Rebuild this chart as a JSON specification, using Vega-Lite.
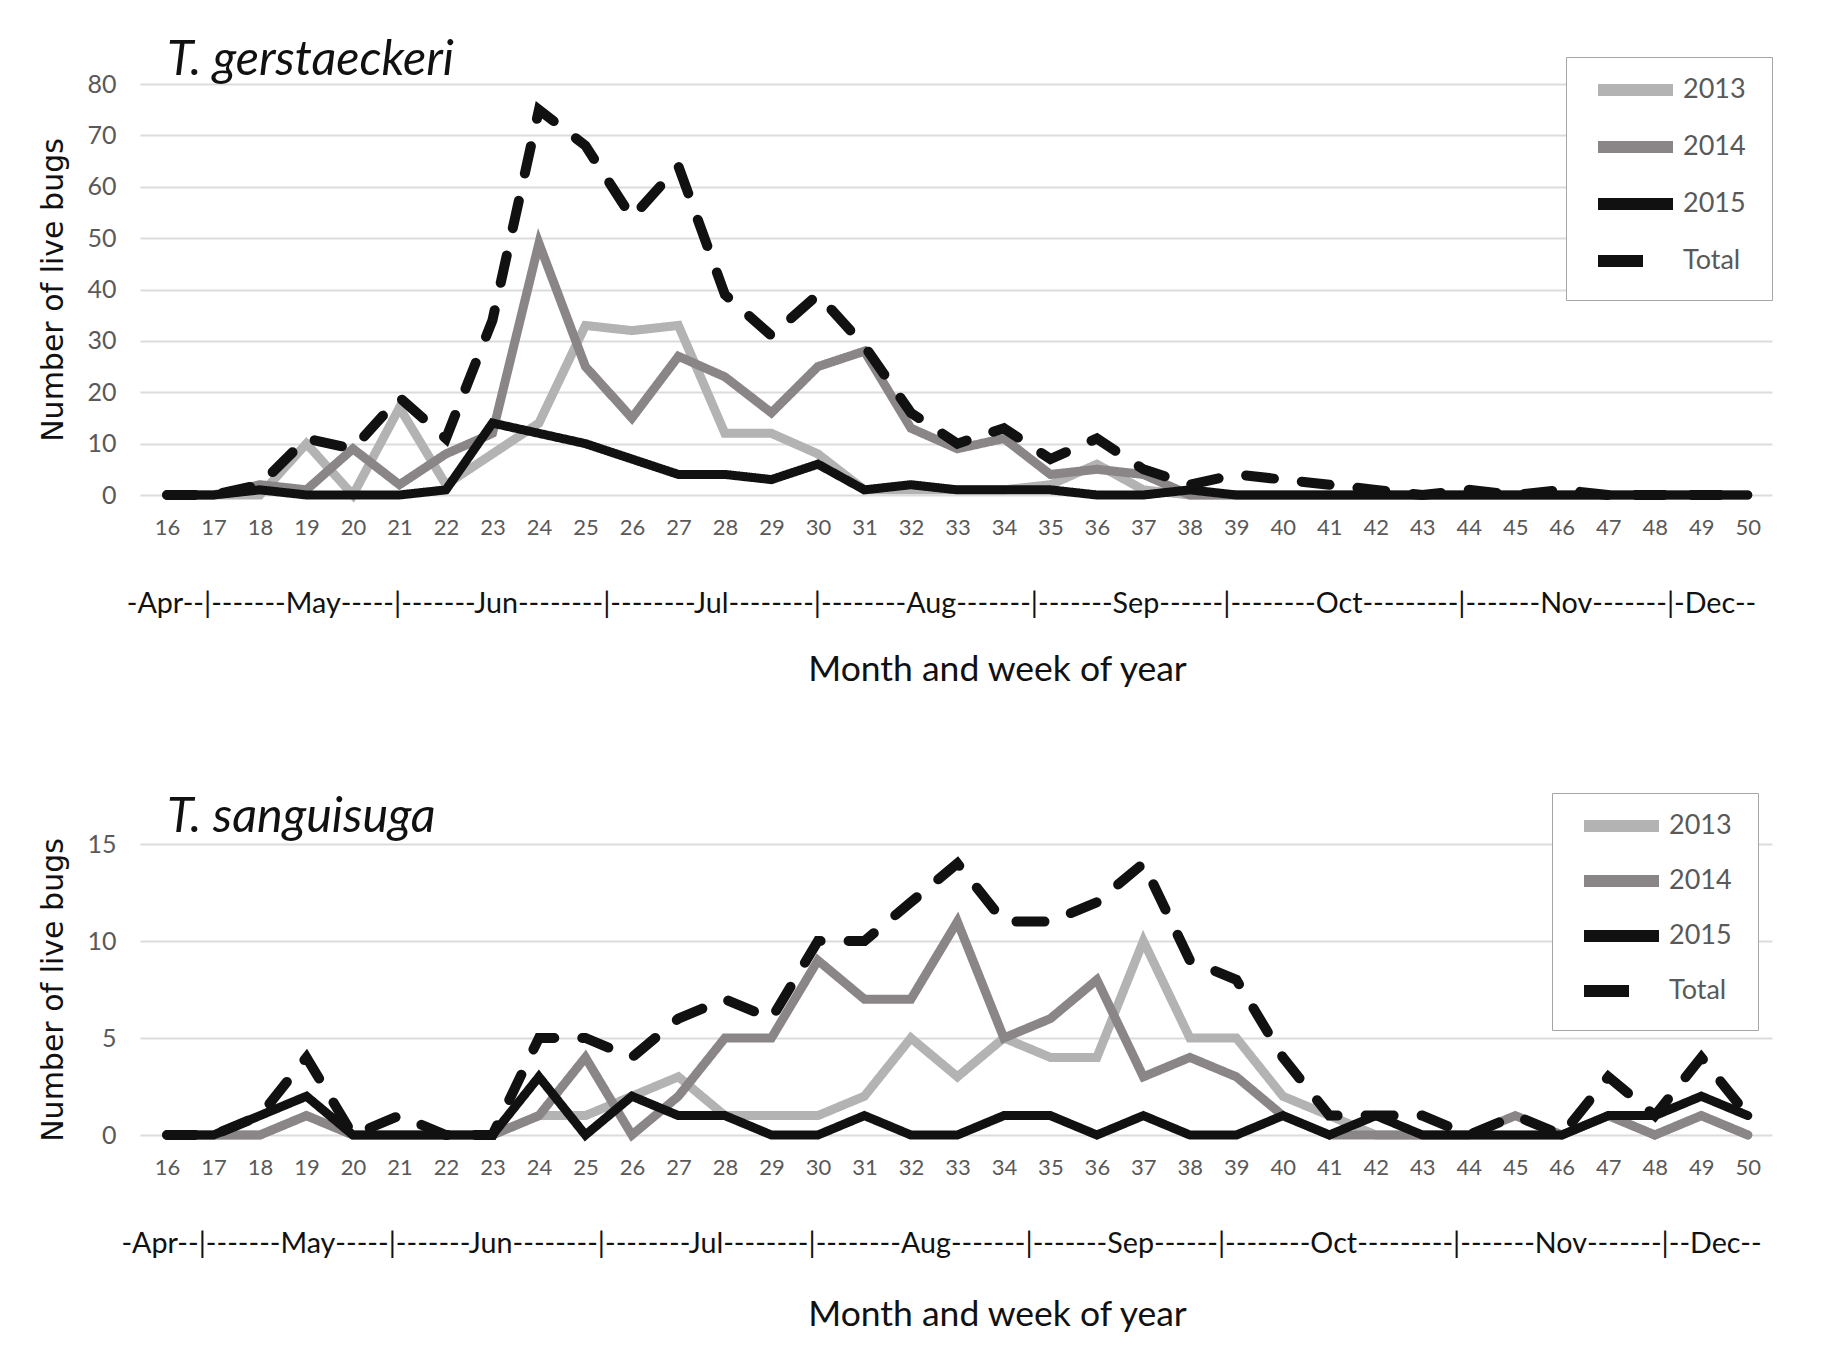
{
  "$schema": "https://vega.github.io/schema/vega-lite/v6.json",
  "background": "white",
  "padding": {"left": 38, "top": 36, "right": 10, "bottom": 10},
  "bounds": "flush",
  "spacing": 349,
  "datasets": {
    "gerst": [
      {"w": 16, "2013": 0, "2014": 0, "2015": 0, "Total": 0},
      {"w": 17, "2013": 0, "2014": 0, "2015": 0, "Total": 0},
      {"w": 18, "2013": 0, "2014": 2, "2015": 1, "Total": 2},
      {"w": 19, "2013": 10, "2014": 1, "2015": 0, "Total": 11},
      {"w": 20, "2013": 0, "2014": 9, "2015": 0, "Total": 9},
      {"w": 21, "2013": 17, "2014": 2, "2015": 0, "Total": 19},
      {"w": 22, "2013": 2, "2014": 8, "2015": 1, "Total": 11},
      {"w": 23, "2013": 8, "2014": 12, "2015": 14, "Total": 34},
      {"w": 24, "2013": 14, "2014": 49, "2015": 12, "Total": 75},
      {"w": 25, "2013": 33, "2014": 25, "2015": 10, "Total": 68},
      {"w": 26, "2013": 32, "2014": 15, "2015": 7, "Total": 54},
      {"w": 27, "2013": 33, "2014": 27, "2015": 4, "Total": 64},
      {"w": 28, "2013": 12, "2014": 23, "2015": 4, "Total": 39},
      {"w": 29, "2013": 12, "2014": 16, "2015": 3, "Total": 31},
      {"w": 30, "2013": 8, "2014": 25, "2015": 6, "Total": 39},
      {"w": 31, "2013": 1, "2014": 28, "2015": 1, "Total": 29},
      {"w": 32, "2013": 1, "2014": 13, "2015": 2, "Total": 16},
      {"w": 33, "2013": 1, "2014": 9, "2015": 1, "Total": 10},
      {"w": 34, "2013": 1, "2014": 11, "2015": 1, "Total": 13},
      {"w": 35, "2013": 2, "2014": 4, "2015": 1, "Total": 7},
      {"w": 36, "2013": 6, "2014": 5, "2015": 0, "Total": 11},
      {"w": 37, "2013": 1, "2014": 4, "2015": 0, "Total": 5},
      {"w": 38, "2013": 0, "2014": 0, "2015": 1, "Total": 2},
      {"w": 39, "2013": 0, "2014": 0, "2015": 0, "Total": 4},
      {"w": 40, "2013": 0, "2014": 0, "2015": 0, "Total": 3},
      {"w": 41, "2013": 0, "2014": 0, "2015": 0, "Total": 2},
      {"w": 42, "2013": 0, "2014": 0, "2015": 0, "Total": 1},
      {"w": 43, "2013": 0, "2014": 0, "2015": 0, "Total": 0},
      {"w": 44, "2013": 0, "2014": 0, "2015": 0, "Total": 1},
      {"w": 45, "2013": 0, "2014": 0, "2015": 0, "Total": 0},
      {"w": 46, "2013": 0, "2014": 0, "2015": 0, "Total": 1},
      {"w": 47, "2013": 0, "2014": 0, "2015": 0, "Total": 0},
      {"w": 48, "2013": 0, "2014": 0, "2015": 0, "Total": 0},
      {"w": 49, "2013": 0, "2014": 0, "2015": 0, "Total": 0},
      {"w": 50, "2013": 0, "2014": 0, "2015": 0, "Total": 0}
    ],
    "sang": [
      {"w": 16, "2013": 0, "2014": 0, "2015": 0, "Total": 0},
      {"w": 17, "2013": 0, "2014": 0, "2015": 0, "Total": 0},
      {"w": 18, "2013": 0, "2014": 0, "2015": 1, "Total": 1},
      {"w": 19, "2013": 1, "2014": 1, "2015": 2, "Total": 4},
      {"w": 20, "2013": 0, "2014": 0, "2015": 0, "Total": 0},
      {"w": 21, "2013": 0, "2014": 0, "2015": 0, "Total": 1},
      {"w": 22, "2013": 0, "2014": 0, "2015": 0, "Total": 0},
      {"w": 23, "2013": 0, "2014": 0, "2015": 0, "Total": 0},
      {"w": 24, "2013": 1, "2014": 1, "2015": 3, "Total": 5},
      {"w": 25, "2013": 1, "2014": 4, "2015": 0, "Total": 5},
      {"w": 26, "2013": 2, "2014": 0, "2015": 2, "Total": 4},
      {"w": 27, "2013": 3, "2014": 2, "2015": 1, "Total": 6},
      {"w": 28, "2013": 1, "2014": 5, "2015": 1, "Total": 7},
      {"w": 29, "2013": 1, "2014": 5, "2015": 0, "Total": 6},
      {"w": 30, "2013": 1, "2014": 9, "2015": 0, "Total": 10},
      {"w": 31, "2013": 2, "2014": 7, "2015": 1, "Total": 10},
      {"w": 32, "2013": 5, "2014": 7, "2015": 0, "Total": 12},
      {"w": 33, "2013": 3, "2014": 11, "2015": 0, "Total": 14},
      {"w": 34, "2013": 5, "2014": 5, "2015": 1, "Total": 11},
      {"w": 35, "2013": 4, "2014": 6, "2015": 1, "Total": 11},
      {"w": 36, "2013": 4, "2014": 8, "2015": 0, "Total": 12},
      {"w": 37, "2013": 10, "2014": 3, "2015": 1, "Total": 14},
      {"w": 38, "2013": 5, "2014": 4, "2015": 0, "Total": 9},
      {"w": 39, "2013": 5, "2014": 3, "2015": 0, "Total": 8},
      {"w": 40, "2013": 2, "2014": 1, "2015": 1, "Total": 4},
      {"w": 41, "2013": 1, "2014": 0, "2015": 0, "Total": 1},
      {"w": 42, "2013": 0, "2014": 0, "2015": 1, "Total": 1},
      {"w": 43, "2013": 0, "2014": 0, "2015": 0, "Total": 1},
      {"w": 44, "2013": 0, "2014": 0, "2015": 0, "Total": 0},
      {"w": 45, "2013": 0, "2014": 1, "2015": 0, "Total": 1},
      {"w": 46, "2013": 0, "2014": 0, "2015": 0, "Total": 0},
      {"w": 47, "2013": 1, "2014": 1, "2015": 1, "Total": 3},
      {"w": 48, "2013": 0, "2014": 0, "2015": 1, "Total": 1},
      {"w": 49, "2013": 1, "2014": 1, "2015": 2, "Total": 4},
      {"w": 50, "2013": 0, "2014": 0, "2015": 1, "Total": 1}
    ]
  },
  "config": {
    "view": {"stroke": null},
    "axis": {
      "labelFont": "Lato",
      "labelColor": "#595959",
      "labelFontSize": 22,
      "titleFont": "Lato",
      "titleFontWeight": "normal",
      "titleColor": "#111111",
      "domain": false,
      "ticks": false
    },
    "axisX": {
      "grid": false,
      "labelPadding": 22,
      "labelAngle": 0,
      "titleFontSize": 28.7,
      "titlePadding": 51
    },
    "axisY": {
      "grid": true,
      "gridColor": "#dcdcdc",
      "gridWidth": 2,
      "labelPadding": 24,
      "labelFontSize": 25,
      "titleFont": "DejaVu Sans",
      "titleFontSize": 30,
      "titlePadding": 18
    },
    "legend": {
      "orient": "none",
      "padding": 26,
      "strokeColor": "#a6a6a6",
      "fillColor": "white",
      "symbolType": "stroke",
      "symbolSize": 5625,
      "symbolStrokeWidth": 12,
      "clipHeight": 14,
      "labelFont": "Lato",
      "labelFontSize": 27,
      "labelColor": "#595959",
      "labelOffset": 4
    },
    "title": {
      "font": "Lato",
      "fontWeight": "normal",
      "fontStyle": "italic",
      "fontSize": 48.5,
      "color": "#111111",
      "anchor": "start",
      "frame": "group",
      "dx": 27,
      "baseline": "alphabetic"
    }
  },
  "resolve": {
    "scale": {"color": "independent", "strokeDash": "independent", "y": "independent"},
    "legend": {"color": "independent", "strokeDash": "independent"}
  },
  "vconcat": [
    {
      "title": {"text": "T. gerstaeckeri", "offset": -29},
      "width": 1632,
      "height": 411,
      "data": {"name": "gerst"},
      "transform": [{"fold": ["2013", "2014", "2015", "Total"], "as": ["series", "n"]}],
      "resolve": {"axis": {"x": "independent"}},
      "encoding": {
        "y": {
          "field": "n", "type": "quantitative",
          "scale": {"domain": [0, 80], "nice": false},
          "axis": {"values": [0,10,20,30,40,50,60,70,80], "title": "Number of live bugs"}
        },
        "color": {
          "field": "series", "type": "nominal",
          "scale": {"domain": ["2013", "2014", "2015", "Total"], "range": ["#b3b3b3", "#8a8586", "#111111", "#111111"]},
          "legend": {"title": null, "legendX": 1426, "legendY": -27, "rowPadding": 30}
        }
      },
      "layer": [
        {
          "transform": [{"filter": "datum.series !== 'Total'"}],
          "mark": {"type": "line", "strokeWidth": 9, "strokeCap": "round", "strokeJoin": "miter"},
          "encoding": {
            "x": {
              "field": "w", "type": "quantitative",
              "scale": {"domain": [15.42, 50.52], "nice": false, "zero": false},
              "axis": {
                "orient": "bottom",
                "values": [16,17,18,19,20,21,22,23,24,25,26,27,28,29,30,31,32,33,34,35,36,37,38,39,40,41,42,43,44,45,46,47,48,49,50],
                "format": "d",
                "titleX": 801,
                "title": "-Apr--|-------May-----|-------Jun--------|--------Jul--------|--------Aug-------|-------Sep------|--------Oct---------|-------Nov-------|-Dec--"
              }
            },
            "strokeDash": {
              "field": "series", "type": "nominal",
              "scale": {"domain": ["2013", "2014", "2015", "Total"], "range": [[1, 0], [1, 0], [1, 0], [45, 300]]},
              "legend": {"title": null, "legendX": 1426, "legendY": -27, "rowPadding": 30}
            }
          }
        },
        {
          "transform": [{"filter": "datum.series === 'Total'"}],
          "mark": {"type": "line", "strokeWidth": 10, "strokeCap": "round", "strokeJoin": "miter", "strokeDash": [28, 28]},
          "encoding": {
            "x": {
              "field": "w", "type": "quantitative",
              "scale": {"domain": [15.42, 50.52], "nice": false, "zero": false},
              "axis": {
                "orient": "bottom",
                "labels": false,
                "title": "Month and week of year",
                "titleFontSize": 35.5,
                "titlePadding": 157,
                "titleX": 857
              }
            }
          }
        }
      ]
    },
    {
      "title": {"text": "T. sanguisuga", "offset": -50},
      "width": 1632,
      "height": 291,
      "data": {"name": "sang"},
      "transform": [{"fold": ["2013", "2014", "2015", "Total"], "as": ["series", "n"]}],
      "resolve": {"axis": {"x": "independent"}},
      "encoding": {
        "y": {
          "field": "n", "type": "quantitative",
          "scale": {"domain": [0, 15], "nice": false},
          "axis": {"values": [0, 5, 10, 15], "title": "Number of live bugs"}
        },
        "color": {
          "field": "series", "type": "nominal",
          "scale": {"domain": ["2013", "2014", "2015", "Total"], "range": ["#b3b3b3", "#8a8586", "#111111", "#111111"]},
          "legend": {"title": null, "legendX": 1412, "legendY": -51, "rowPadding": 28}
        }
      },
      "layer": [
        {
          "transform": [{"filter": "datum.series !== 'Total'"}],
          "mark": {"type": "line", "strokeWidth": 9, "strokeCap": "round", "strokeJoin": "miter"},
          "encoding": {
            "x": {
              "field": "w", "type": "quantitative",
              "scale": {"domain": [15.42, 50.52], "nice": false, "zero": false},
              "axis": {
                "orient": "bottom",
                "values": [16,17,18,19,20,21,22,23,24,25,26,27,28,29,30,31,32,33,34,35,36,37,38,39,40,41,42,43,44,45,46,47,48,49,50],
                "format": "d",
                "titleX": 801,
                "title": "-Apr--|-------May-----|-------Jun--------|--------Jul--------|--------Aug-------|-------Sep------|--------Oct---------|-------Nov-------|--Dec--"
              }
            },
            "strokeDash": {
              "field": "series", "type": "nominal",
              "scale": {"domain": ["2013", "2014", "2015", "Total"], "range": [[1, 0], [1, 0], [1, 0], [45, 300]]},
              "legend": {"title": null, "legendX": 1412, "legendY": -51, "rowPadding": 28}
            }
          }
        },
        {
          "transform": [{"filter": "datum.series === 'Total'"}],
          "mark": {"type": "line", "strokeWidth": 10, "strokeCap": "round", "strokeJoin": "miter", "strokeDash": [28, 28]},
          "encoding": {
            "x": {
              "field": "w", "type": "quantitative",
              "scale": {"domain": [15.42, 50.52], "nice": false, "zero": false},
              "axis": {
                "orient": "bottom",
                "labels": false,
                "title": "Month and week of year",
                "titleFontSize": 35.5,
                "titlePadding": 162,
                "titleX": 857
              }
            }
          }
        }
      ]
    }
  ]
}
